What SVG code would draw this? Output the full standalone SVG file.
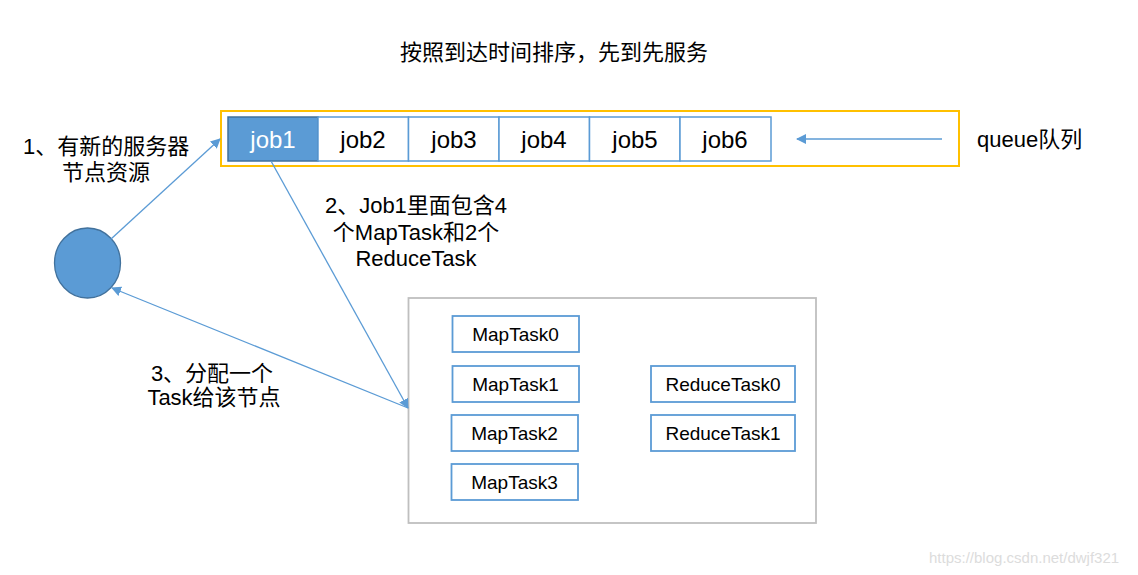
<svg xmlns="http://www.w3.org/2000/svg" width="1138" height="575" viewBox="0 0 1138 575">
<defs>
<marker id="ah" viewBox="0 0 10 10" refX="9" refY="5" markerWidth="10" markerHeight="10" markerUnits="userSpaceOnUse" orient="auto">
<path d="M0,0 L10,5 L0,10 z" fill="#5B9BD5"/>
</marker>
<style>
text{font-family:"Liberation Sans","Noto Sans CJK SC",sans-serif;fill:#000;dominant-baseline:central}
.cjk{font-size:22px}
.job{font-size:24px;text-anchor:middle}
.cell{fill:#fff;stroke:#5B9BD5;stroke-width:1.5}
.task{fill:#fff;stroke:#5B9BD5;stroke-width:1.8}
.tl{font-size:19px;text-anchor:middle}
.conn{stroke:#5B9BD5;stroke-width:1.3;fill:none;marker-end:url(#ah)}
</style>
</defs>
<rect width="1138" height="575" fill="#fff"/>
<text x="554" y="52" class="cjk" text-anchor="middle">按照到达时间排序，先到先服务</text>
<g id="queue">
<rect x="221" y="111" width="738" height="55" fill="#fff" stroke="#FFC000" stroke-width="2"/>
</g>
<g id="job1"><rect x="228" y="117" width="90" height="44" fill="#5B9BD5" stroke="#41719C" stroke-width="1.5"/><text x="273" y="139" class="job" style="fill:#fff">job1</text></g>
<g id="job2"><rect x="318" y="117" width="90.5" height="44" class="cell"/><text x="363" y="139" class="job">job2</text></g>
<g id="job3"><rect x="408.5" y="117" width="90.5" height="44" class="cell"/><text x="454" y="139" class="job">job3</text></g>
<g id="job4"><rect x="499" y="117" width="90.5" height="44" class="cell"/><text x="544" y="139" class="job">job4</text></g>
<g id="job5"><rect x="589.5" y="117" width="90.5" height="44" class="cell"/><text x="635" y="139" class="job">job5</text></g>
<g id="job6"><rect x="680" y="117" width="91" height="44" class="cell"/><text x="725" y="139" class="job">job6</text></g>
<g id="queue-label"><text x="977" y="139" class="cjk">queue队列</text></g>
<g id="node"><ellipse cx="87.5" cy="263" rx="33" ry="35" fill="#5B9BD5" stroke="#41719C" stroke-width="1.3"/></g>
<g id="tasks-box"><rect x="408.5" y="298" width="407.5" height="225" fill="#fff" stroke="#BFBFBF" stroke-width="1.8"/></g>
<g id="maptask0"><rect x="452.5" y="316" width="126.5" height="36" class="task"/><text x="515.5" y="334.5" class="tl">MapTask0</text></g>
<g id="maptask1"><rect x="452.5" y="366" width="126.5" height="36" class="task"/><text x="515.5" y="384.5" class="tl">MapTask1</text></g>
<g id="maptask2"><rect x="451.5" y="415" width="126.5" height="36" class="task"/><text x="514.5" y="433.5" class="tl">MapTask2</text></g>
<g id="maptask3"><rect x="451.5" y="464" width="126.5" height="36" class="task"/><text x="514.5" y="482.5" class="tl">MapTask3</text></g>
<g id="reducetask0"><rect x="651" y="366" width="144" height="36" class="task"/><text x="723" y="384.5" class="tl">ReduceTask0</text></g>
<g id="reducetask1"><rect x="651" y="415" width="144" height="36" class="task"/><text x="723" y="433.5" class="tl">ReduceTask1</text></g>
<g id="connectors">
<line x1="942" y1="139" x2="797" y2="139" class="conn"/>
<line x1="111" y1="239" x2="220" y2="139" class="conn"/>
<line x1="271" y1="161" x2="408" y2="408" class="conn"/>
<line x1="408" y1="408" x2="112" y2="288" class="conn"/>
</g>
<g id="labels">
<text x="23" y="146" class="cjk">1、有新的服务器</text>
<text x="106" y="172" class="cjk" text-anchor="middle">节点资源</text>
<text x="416" y="205" class="cjk" text-anchor="middle">2、Job1里面包含4</text>
<text x="416" y="232" class="cjk" text-anchor="middle">个MapTask和2个</text>
<text x="416" y="258" class="cjk" text-anchor="middle">ReduceTask</text>
<text x="212" y="373" class="cjk" text-anchor="middle">3、分配一个</text>
<text x="214" y="397" class="cjk" text-anchor="middle">Task给该节点</text>
</g>
<text x="929" y="557" style="font-size:15px;fill:#dcdcdc">https://blog.csdn.net/dwjf321</text>
</svg>
